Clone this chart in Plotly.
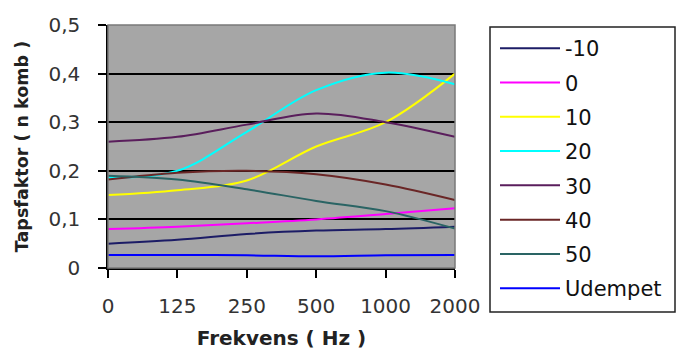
import plotly.graph_objects as go

categories = ["0", "125", "250", "500", "1000", "2000"]
series_names = ["-10", "0", "10", "20", "30", "40", "50", "Udempet"]
s_m10 = [0.05, 0.058, 0.07, 0.077, 0.08, 0.085]
s_0 = [0.08, 0.085, 0.092, 0.1, 0.111, 0.123]
s_10 = [0.15, 0.16, 0.18, 0.25, 0.3, 0.4]
s_20 = [0.186, 0.2, 0.28, 0.366, 0.402, 0.378]
s_30 = [0.26, 0.27, 0.295, 0.318, 0.3, 0.27]
s_40 = [0.182, 0.196, 0.2, 0.193, 0.172, 0.14]
s_50 = [0.19, 0.182, 0.162, 0.138, 0.117, 0.081]
s_udempet = [0.027, 0.027, 0.026, 0.024, 0.026, 0.027]
series_values = [s_m10, s_0, s_10, s_20, s_30, s_40, s_50, s_udempet]
colors = ["#1c1c66", "#ff00ff", "#ffff00", "#00ffff", "#5a1e5c", "#6a2626", "#2a6464", "#0000ff"]

y_tickvals = [0, 0.1, 0.2, 0.3, 0.4, 0.5]
y_ticktext = ["0", "0,1", "0,2", "0,3", "0,4", "0,5"]

FONT = "DejaVu Sans"

fig = go.Figure()
for i, (name, vals) in enumerate(zip(series_names, series_values)):
    fig.add_trace(go.Scatter(
        x=categories, y=vals, name=name, mode="lines",
        line=dict(color=colors[i], width=2, shape="spline"),
        legendgroup=name,
    ))

fig.update_layout(
    width=677, height=350,
    margin=dict(l=108, r=222, t=25, b=82, autoexpand=False),
    paper_bgcolor="white",
    plot_bgcolor="#a6a6a6",
    font=dict(family=FONT, color="#222"),
    showlegend=True,
    legend=dict(
        x=(495 - 108) / 347, y=(268 - 28) / 243, xanchor="left", yanchor="top",
        font=dict(family=FONT, size=21, color="#111"),
        bgcolor="rgba(0,0,0,0)", borderwidth=0,
        traceorder="grouped", tracegroupgap=4,
        itemwidth=60, maxheight=320,
    ),
    xaxis=dict(
        type="category", range=[0, 5], automargin=False,
        showgrid=False, showline=True, linecolor="black", linewidth=1.5,
        ticks="outside", ticklen=8, tickcolor="black", tickwidth=1.5,
        tickfont=dict(family=FONT, size=20, color="#333"),
        ticklabelstandoff=11,
        title=dict(text="<b>Frekvens ( Hz )</b>", font=dict(family=FONT, size=20, color="#222"), standoff=16),
        zeroline=False,
    ),
    yaxis=dict(
        range=[0, 0.5], tickvals=y_tickvals, ticktext=y_ticktext, automargin=False,
        showgrid=True, gridcolor="black", gridwidth=1.5,
        showline=True, linecolor="black", linewidth=1.5,
        ticks="outside", ticklen=8, tickcolor="black", tickwidth=1.5,
        tickfont=dict(family=FONT, size=20, color="#333"),
        ticklabelstandoff=14,
        title=dict(text="<b>Tapsfaktor ( n komb )</b>", font=dict(family=FONT, size=17.5, color="#222"), standoff=15),
        zeroline=False,
    ),
    shapes=[
        dict(type="rect", xref="paper", yref="paper", x0=0, x1=1, y0=0, y1=1,
             line=dict(color="#7a7a7a", width=1.5), layer="above"),
        dict(type="rect", xref="paper", yref="paper", x0=(490 - 108) / 347, x1=(675 - 108) / 347,
             y0=(268 - 312) / 243, y1=(268 - 27) / 243,
             line=dict(color="#222", width=1.5), fillcolor="rgba(0,0,0,0)", layer="below"),
    ],
)

fig.write_html("out.html")
